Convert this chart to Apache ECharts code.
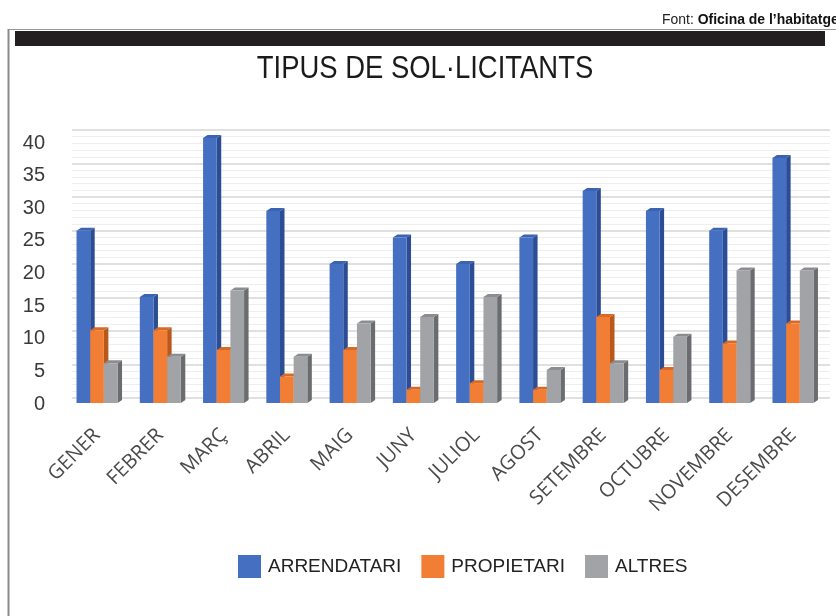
<!DOCTYPE html>
<html>
<head>
<meta charset="utf-8">
<script src="https://cdn.jsdelivr.net/npm/echarts@6/dist/echarts.min.js"></script>
<style>html,body{margin:0;padding:0;background:#fff}#c{width:836px;height:616px}</style>
</head>
<body>
<div id="c"></div>
<script>
const months = ['GENER','FEBRER','MARÇ','ABRIL','MAIG','JUNY','JULIOL','AGOST','SETEMBRE','OCTUBRE','NOVEMBRE','DESEMBRE'];
const seriesNames = ['ARRENDATARI','PROPIETARI','ALTRES'];
const arrendatari = [26,16,40,29,21,25,21,25,32,29,26,37];
const propietari  = [11,11,8,4,8,2,3,2,13,5,9,12];
const altres      = [6,7,17,7,12,13,16,5,6,10,20,20];
const yTicks = [0,5,10,15,20,25,30,35,40];

const values = [arrendatari, propietari, altres];
const palette = [
  {front:'#4570c2', side:'#2b4d93', top:'#3a63b3'},
  {front:'#f17e34', side:'#b9581b', top:'#d86a26'},
  {front:'#a1a3a6', side:'#6b6c6f', top:'#8b8d90'}
];

function makeRender(s){
  return function(params, api){
    const idx = api.value(0), v = api.value(1);
    const base = api.coord([idx, 0]);
    const top = api.coord([idx, v]);
    const catW = api.size([1,0])[0];
    const bw = catW * 0.216;
    const d = 4.5, dy = 3;
    const x0 = base[0] - 1.5*bw + s*bw;
    const x1 = x0 + bw;
    const c = palette[s];
    return {
      type:'group',
      children:[
        {type:'polygon', shape:{points:[[x1,top[1]],[x1+d,top[1]-dy],[x1+d,base[1]-dy],[x1,base[1]]]}, style:{fill:c.side}},
        {type:'polygon', shape:{points:[[x0,top[1]],[x0+d,top[1]-dy],[x1+d,top[1]-dy],[x1,top[1]]]}, style:{fill:c.top}},
        {type:'rect', shape:{x:x0, y:top[1], width:bw, height:base[1]-top[1]}, style:{fill:c.front}}
      ]
    };
  };
}

const chart = echarts.init(document.getElementById('c'), null, {renderer:'canvas'});
const option = {
  animation:false,
  backgroundColor:'#ffffff',
  grid:[
    {left:65.4, right:11.4, top:138, bottom:213},   // bars
    {left:72, right:6, top:130, bottom:218},        // back wall grid lines
    {left:60, right:11.4, top:143, bottom:212}      // y labels
  ],
  xAxis:[
    {type:'category', gridIndex:0, data:months, boundaryGap:true,
     axisLine:{show:false}, axisTick:{show:false},
     axisLabel:{rotate:45, margin:29, fontSize:20, color:'#4a4a4a', fontFamily:'Open Sans', interval:0}},
    {type:'category', gridIndex:1, data:months, show:false},
    {type:'category', gridIndex:2, data:months, show:false}
  ],
  yAxis:[
    {type:'value', gridIndex:0, min:0, max:40, interval:5, show:false},
    {type:'value', gridIndex:1, min:0, max:40, interval:5,
     axisLine:{show:false}, axisTick:{show:false}, axisLabel:{show:false},
     splitLine:{show:true, lineStyle:{color:'#d6d6d6', width:1.5}},
     minorTick:{show:false, splitNumber:5},
     minorSplitLine:{show:true, lineStyle:{color:'#eeeeee', width:1}}},
    {type:'value', gridIndex:2, min:0, max:40, interval:5,
     axisLine:{show:false}, axisTick:{show:false}, splitLine:{show:false},
     axisLabel:{margin:15, fontSize:20, color:'#3a3a3a', fontFamily:'Liberation Sans',
       customValues: yTicks}}
  ],
  legend:{
    left:233, top:550, itemWidth:23, itemHeight:23, itemGap:20, icon:'rect',
    data:seriesNames,
    textStyle:{fontSize:19, color:'#222', fontFamily:'Liberation Sans', padding:[0,0,0,2]}
  },
  series: seriesNames.map((name, s) => ({
    type:'custom', name:name, xAxisIndex:0, yAxisIndex:0,
    itemStyle:{color:palette[s].front},
    encode:{x:0, y:1},
    data: values[s].map((v,i)=>[i,v]),
    renderItem: makeRender(s),
    clip:false
  })),
  graphic:[
    {type:'line', shape:{x1:8, y1:29.5, x2:836, y2:29.5}, style:{stroke:'#9a9a9a', lineWidth:1}},
    {type:'line', shape:{x1:8.5, y1:29, x2:8.5, y2:616}, style:{stroke:'#8a8a8a', lineWidth:2}},
    {type:'rect', shape:{x:15, y:31, width:810, height:15}, style:{fill:'#231f20'}},
    {type:'text', x:662, y:20, scaleX:0.93, style:{
      text:'{a|Font: }{b|Oficina de l\u2019habitatge}', textVerticalAlign:'middle',
      rich:{a:{fontSize:15, fill:'#222', fontFamily:'Liberation Sans'}, b:{fontSize:15, fontWeight:'bold', fill:'#111', fontFamily:'Liberation Sans'}}
    }},
    {type:'text', x:425, y:69, scaleX:0.885, style:{
      text:'TIPUS DE SOL\u00B7LICITANTS', textAlign:'center', textVerticalAlign:'middle',
      fontSize:31, fill:'#1a1a1a', fontFamily:'Liberation Sans'
    }}
  ]
};
chart.setOption(option);
</script>
</body>
</html>
